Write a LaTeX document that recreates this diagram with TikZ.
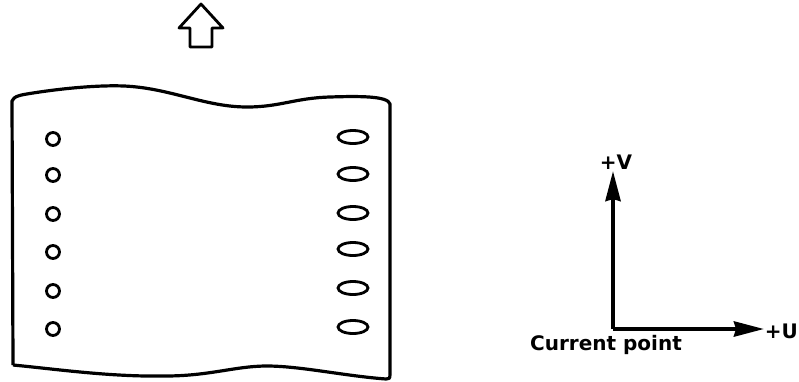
\documentclass[tikz,border=0pt]{standalone}
\usepackage{fontspec}
\setmainfont{DejaVu Sans}
\usepackage{tikz}
\usetikzlibrary{arrows.meta,positioning}

\begin{document}
\begin{tikzpicture}[x=1pt, y=-1pt, >={Stealth[length=30pt, width=15pt, inset=2pt]}]
        \tikzset{sheet/.style={draw, line width=3.2pt, line join=round},
                 hole/.style={draw, line width=2.8pt},
                 axis/.style={->, line width=4pt},
                 lbl/.style={font=\fontsize{20}{24}\selectfont\bfseries, inner sep=0pt}}
        \useasboundingbox (0,0) rectangle (799,381);
        % paper moving up
        \draw[sheet, line width=2.8pt] (201,4) -- (223,28) -- (212,28) -- (212,47) -- (190,47) -- (190,28) -- (179,28) -- cycle;
        \draw[sheet] (13,365) -- (12,101) .. controls (14,96) and (20,95) .. (33,93)
            .. controls (65,88) and (100,85) .. (124,86)
            .. controls (170,88) and (205,107) .. (247,107)
            .. controls (280,107) and (295,98) .. (330,97)
            .. controls (360,96) and (388,96) .. (390,104)
            -- (390,374) .. controls (390,379) and (389,379) .. (386,379)
            .. controls (345,376) and (300,366) .. (267,366)
            .. controls (235,366) and (210,376) .. (165,376)
            .. controls (110,377) and (55,369) .. (13,365);
        \foreach \y in {139,175,214,252,291,329}
            \draw[hole] (53,\y) circle (6.5);
        \foreach \y in {137,174,213,249,288,327}
            \draw[hole] (353,\y) ellipse (15 and 6.5);
        % u,v axes
        \coordinate (origin) at (613,329);
        \coordinate (vtip) at (613,171);
        \coordinate (utip) at (764,329);
        \draw[axis] (origin) -- (vtip);
        \draw[axis] (origin.center) -- (utip);
        \node[lbl] (v) at (616,162) {+V};
        \node[lbl, anchor=east] (u) at (798,331) {+U};
        \node[lbl, anchor=base west] (cp) at (530,350) {Current point};
    \end{tikzpicture}
\end{document}
